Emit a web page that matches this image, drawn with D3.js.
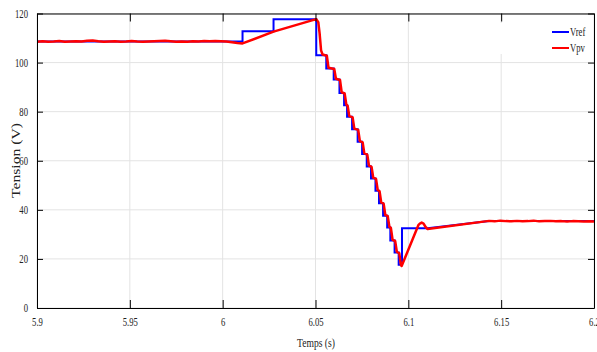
<!DOCTYPE html>
<html><head><meta charset="utf-8">
<script src="https://cdn.jsdelivr.net/npm/d3@7"></script>
<style>html,body{margin:0;padding:0;background:#fff;overflow:hidden}</style>
</head><body>
<script>
const xTicks = [5.9, 5.95, 6, 6.05, 6.1, 6.15, 6.2];
const yTicks = [0, 20, 40, 60, 80, 100, 120];
const xTickLabels = ["5.9", "5.95", "6", "6.05", "6.1", "6.15", "6.2"];
const seriesNames = ["Vref", "Vpv"];

// Vref: step-after breakpoints (time, level), then a linear ramp
const vrefStepTime = [5.9, 6.0107, 6.0274, 6.0504, 6.0558, 6.0598, 6.0629, 6.0654, 6.0670, 6.0697, 6.0727, 6.0751, 6.0776, 6.0799, 6.0823, 6.0842, 6.0864, 6.0886, 6.0903, 6.0926, 6.0948, 6.0966];
const vrefStepLevel = [108.6, 112.8, 117.7, 103.0, 97.6, 93.1, 87.6, 82.6, 77.9, 72.8, 67.7, 62.7, 57.7, 52.8, 47.8, 42.7, 37.6, 32.8, 27.5, 22.6, 17.6, 32.5];
const vrefRampTime = [6.1104, 6.1435, 6.2];
const vrefRampLevel = [32.5, 35.4, 35.4];

// Vpv measured voltage
const vpvTime = [5.900,5.903,5.906,5.909,5.912,5.915,5.918,5.921,5.924,5.927,5.930,5.933,5.936,5.939,5.942,5.945,5.948,5.951,5.954,5.957,5.960,5.963,5.966,5.969,5.972,5.975,5.978,5.981,5.984,5.987,5.990,5.993,5.996,5.999,6.002,6.005,6.008,6.0107,
 6.0274,6.0504,6.0515,6.0522,6.0530,6.0538,
 6.0561,6.0570,6.0601,6.0610,6.0632,6.0641,6.0657,6.0666,6.0673,6.0682,6.0700,6.0709,6.0730,6.0739,6.0754,6.0763,6.0779,6.0788,6.0802,6.0811,6.0826,6.0835,6.0845,6.0854,6.0867,6.0876,6.0889,6.0898,6.0906,6.0915,6.0929,6.0938,6.0951,6.0960,6.0964,
 6.1055,6.1062,6.1072,6.1082,6.1093,6.1104,6.1435,
 6.1465,6.1495,6.1525,6.1555,6.1585,6.1615,6.1645,6.1675,6.1705,6.1735,6.1765,6.1795,6.1825,6.1855,6.1885,6.1915,6.1945,6.1975,6.2];
const vpvVolt = [108.5,108.7,108.5,108.6,108.8,108.5,108.6,108.7,108.6,108.9,109.0,108.7,108.5,108.6,108.7,108.5,108.6,108.8,108.6,108.5,108.6,108.7,108.8,108.9,108.7,108.5,108.6,108.5,108.7,108.6,108.8,108.7,108.8,108.7,108.6,108.3,108.0,107.8,
 112.6,117.7,116.5,112.0,105.0,103.3,
 102.8,97.9,97.4,93.4,92.9,87.9,87.4,82.9,82.4,78.2,77.7,73.1,72.6,68.0,67.5,63.0,62.5,58.0,57.5,53.1,52.6,48.1,47.6,43.0,42.5,37.9,37.4,33.1,32.6,27.8,27.3,22.9,22.4,17.6,17.1,
 33.9,34.4,34.8,34.4,33.0,32.2,35.5,
 35.3,35.6,35.4,35.3,35.5,35.3,35.4,35.6,35.3,35.4,35.5,35.3,35.4,35.2,35.4,35.3,35.2,35.3,35.2];

const W = 597, H = 352;
const m = {left: 37, right: 3, top: 13.5, bottom: 44};
const svg = d3.select("body").append("svg").attr("width", W).attr("height", H)
  .style("font-family", "'Liberation Serif','Times New Roman',serif");

const x = d3.scaleLinear().domain([5.9, 6.2]).range([m.left, W - m.right]);
const y = d3.scaleLinear().domain([0, 120]).range([H - m.bottom, m.top]);
const x0 = x.range()[0], x1 = x.range()[1], y0 = y.range()[0], y1 = y.range()[1];

// grid
const grid = svg.append("g").attr("stroke", "#e3e3e3").attr("stroke-width", 1);
grid.selectAll(".gx").data(xTicks).join("line")
  .attr("x1", d => x(d)).attr("x2", d => x(d)).attr("y1", y1).attr("y2", y0);
grid.selectAll(".gy").data(yTicks).join("line")
  .attr("x1", x0).attr("x2", x1).attr("y1", d => y(d)).attr("y2", d => y(d));

// clip
svg.append("clipPath").attr("id", "clip").append("rect")
  .attr("x", x0).attr("y", y1).attr("width", x1 - x0).attr("height", y0 - y1);

// build Vref points
const vrefPts = [];
vrefStepTime.forEach((t, i) => {
  if (i > 0) vrefPts.push([t, vrefStepLevel[i - 1]]);
  vrefPts.push([t, vrefStepLevel[i]]);
});
vrefRampTime.forEach((t, i) => vrefPts.push([t, vrefRampLevel[i]]));
const vpvPts = vpvTime.map((t, i) => [t, vpvVolt[i]]);

const line = d3.line().x(d => x(d[0])).y(d => y(d[1]));
const plot = svg.append("g").attr("clip-path", "url(#clip)");
plot.append("path").datum(vrefPts).attr("d", line).attr("fill", "none")
  .attr("stroke", "#0000ff").attr("stroke-width", 2).attr("stroke-linejoin", "miter");
plot.append("path").datum(vpvPts).attr("d", line).attr("fill", "none")
  .attr("stroke", "#ff0000").attr("stroke-width", 2.5).attr("stroke-linejoin", "round");

// axes
const axB = svg.append("g").attr("transform", `translate(0,${y0})`)
  .call(d3.axisBottom(x).tickValues(xTicks).tickFormat((d, i) => xTickLabels[i]).tickSizeInner(-8).tickSizeOuter(0).tickPadding(14));
const axT = svg.append("g").attr("transform", `translate(0,${y1})`)
  .call(d3.axisTop(x).tickValues(xTicks).tickFormat("").tickSizeInner(-8).tickSizeOuter(0));
const axL = svg.append("g").attr("transform", `translate(${x0},0)`)
  .call(d3.axisLeft(y).tickValues(yTicks).tickSizeInner(-6).tickSizeOuter(0).tickPadding(9));
const axR = svg.append("g").attr("transform", `translate(${x1},0)`)
  .call(d3.axisRight(y).tickValues(yTicks).tickFormat("").tickSizeInner(-6).tickSizeOuter(0));
[axB, axT, axL, axR].forEach(a => {
  a.select(".domain").attr("stroke", "#000").attr("stroke-width", 1);
  a.selectAll(".tick line").attr("stroke", "#000").attr("stroke-width", 1);
  a.selectAll("text").attr("fill", "#222").style("font-family", "'Liberation Serif',serif").style("font-size", "12px");
});
// condense tick labels
svg.selectAll(".tick text").each(function () {
  const w = this.getComputedTextLength();
  if (w > 0) d3.select(this).attr("textLength", w * 0.72).attr("lengthAdjust", "spacingAndGlyphs");
});
axB.selectAll(".tick text").attr("dy", "0.32em");

// axis titles
svg.append("text").attr("x", 316).attr("y", 347).attr("text-anchor", "middle")
  .style("font-size", "13px").attr("fill", "#222")
  .attr("textLength", 38).attr("lengthAdjust", "spacingAndGlyphs").text("Temps (s)");
svg.append("text").attr("transform", "translate(19.5,160.5) rotate(-90)")
  .attr("text-anchor", "middle").style("font-size", "13px").attr("fill", "#222")
  .attr("textLength", 75).attr("lengthAdjust", "spacingAndGlyphs").text("Tension (V)");

// legend
const lg = svg.append("g");
lg.append("rect").attr("x", 497).attr("y", 23).attr("width", 95).attr("height", 31).attr("fill", "#fff");
const colors = ["#0000ff", "#ff0000"];
seriesNames.forEach((n, i) => {
  const ly = 32 + i * 16;
  lg.append("line").attr("x1", 552).attr("x2", 569).attr("y1", ly).attr("y2", ly)
    .attr("stroke", colors[i]).attr("stroke-width", 2);
  const t = lg.append("text").attr("x", 570).attr("y", ly).attr("dy", "0.35em")
    .style("font-size", "12px").attr("fill", "#222").text(n);
  const w = t.node().getComputedTextLength();
  t.attr("textLength", w * 0.72).attr("lengthAdjust", "spacingAndGlyphs");
});
</script>
</body></html>
